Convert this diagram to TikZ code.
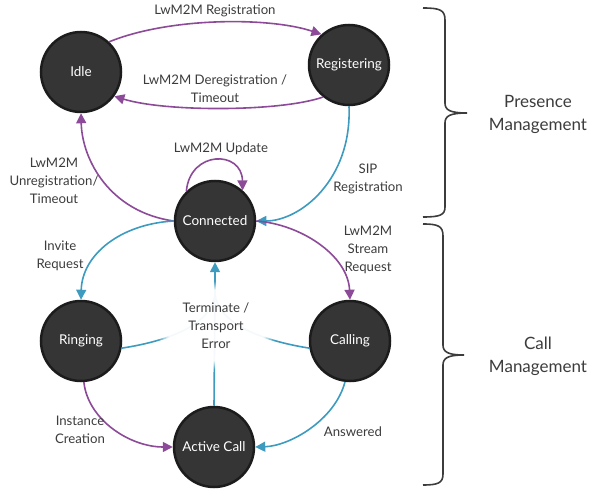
\documentclass[tikz,border=0pt]{standalone}
\usepackage{fontspec}
\setmainfont{Lato}
\usetikzlibrary{arrows.meta,fadings}
\definecolor{pur}{HTML}{8C4A98}
\definecolor{blu}{HTML}{3C9BBF}
\definecolor{nodefill}{HTML}{353535}
\definecolor{nodeedge}{HTML}{1C1C1C}
\definecolor{txt}{HTML}{3C3C3C}
\tikzset{
  state/.style={circle, minimum size=80pt, inner sep=0pt, fill=nodefill, draw=nodeedge, line width=2.5pt, text=white, font=\fontsize{13.5}{15}\selectfont},
  tr/.style={line width=1.6pt, -{Triangle[length=10pt,width=10pt]}},
  trn/.style={line width=1.6pt},
  lbl/.style={text=txt, align=center, font=\fontsize{13.2}{18}\selectfont, inner sep=0pt},
  big/.style={text=txt, align=center, font=\fontsize{17}{23}\selectfont, inner sep=0pt},
  brace/.style={draw=txt, line width=1.6pt},
}
\begin{document}
\begin{tikzpicture}[x=1pt,y=-1pt]
\useasboundingbox (0,0) rectangle (590,489);
% states
\node[state] (idle) at (81,72) {Idle};
\node[state] (reg) at (349,65) {Registering};
\node[state] (con) at (215,221) {Connected};
\node[state] (ring) at (81,341) {Ringing};
\node[state] (call) at (350,341) {Calling};
\node[state] (act) at (214,447) {Active Call};
% presence transitions
\draw[tr, pur] (idle.47) .. controls (170,17) and (270,17) .. (reg.132);
\draw[tr, pur] (reg.231) .. controls (280,112) and (165,112) .. (idle.-36);
\draw[tr, pur] (con.180) .. controls (110,212) and (82,160) .. (idle.south);
\draw[tr, pur] (con.134) .. controls (190,150) and (242,150) .. (con.48);
\draw[tr, blu] (reg.south) .. controls (352,180) and (300,221) .. (con.0);
% call transitions
\draw[tr, pur] (con.0) .. controls (300,224) and (348,255) .. (call.north);
\draw[tr, blu] (con.180) .. controls (120,224) and (82,255) .. (ring.north);
\draw[tr, pur] (ring.-86) .. controls (88,420) and (130,447) .. (act.west);
\draw[tr, blu] (call.-97) .. controls (335,420) and (290,446) .. (act.east);
% terminate
\coordinate (m) at (215,293);
\draw[trn, blu] (ring.-10) .. controls (175,340) and (213,322) .. (m);
\draw[trn, blu] (call.190) .. controls (258,340) and (217,322) .. (m);
\draw[trn, blu] (act.north) -- (m);
\draw[tr, blu] (m) -- (con.south);
\fill[white, path fading=circle with fuzzy edge 20 percent, fill opacity=0.95] (216,325) ellipse [x radius=62pt, y radius=44pt];
\node[lbl] (tl) at (216,326) {Terminate /\\Transport\\Error};
% labels
\node[lbl] (l1) at (215,11) {LwM2M Registration};
\node[lbl] (l2) at (215,89) {LwM2M Deregistration /\\Timeout};
\node[lbl] (l3) at (54,181) {LwM2M\\Unregistration/\\Timeout};
\node[lbl] (l4) at (221,149) {LwM2M Update};
\node[lbl] (l5) at (368,179) {SIP\\Registration};
\node[lbl] (l6) at (368,250) {LwM2M\\Stream\\Request};
\node[lbl] (l7) at (60,256) {Invite\\Request};
\node[lbl] (l8) at (80,430) {Instance\\Creation};
\node[lbl] (l9) at (353,432) {Answered};
% braces
\draw[brace] (423,8) .. controls (440,8) and (445,10) .. (445,20) -- (445,103) .. controls (445,110) and (450,113) .. (467,113) .. controls (450,113) and (445,116) .. (445,123) -- (445,207) .. controls (445,215) and (440,217) .. (423,217);
\draw[brace] (423,224) .. controls (438,224) and (443,226) .. (443,236) -- (443,345) .. controls (443,352) and (448,355) .. (464,355) .. controls (448,355) and (443,358) .. (443,365) -- (443,474) .. controls (443,483) and (438,485) .. (423,485);
\node[big] (pm) at (538,114) {Presence\\Management};
\node[big] (cm) at (538,356) {Call\\Management};
\end{tikzpicture}
\end{document}
